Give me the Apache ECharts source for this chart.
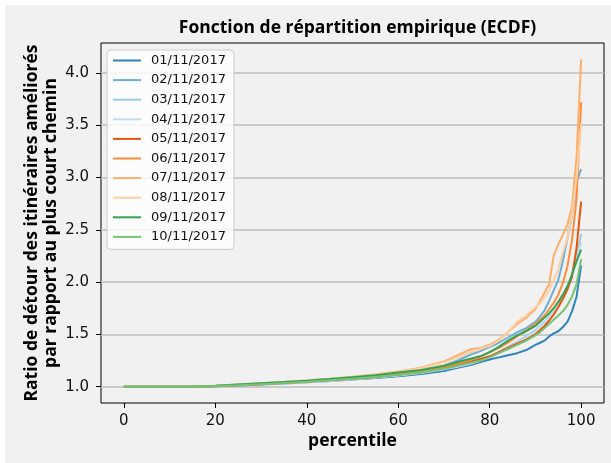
<!DOCTYPE html>
<html>
<head>
<meta charset="utf-8">
<script src="https://cdn.jsdelivr.net/npm/echarts@6/dist/echarts.min.js"></script>
<style>
  html, body { margin: 0; padding: 0; background: #fff; }
  #chart {
    width: 611px; height: 463px;
    background: linear-gradient(#f1f1f1, #f1f1f1) 5px 5px / 606px 458px no-repeat, #fff;
  }
</style>
</head>
<body>
<div id="chart"></div>
<script>
// Percentile grid shared by every day's ECDF curve
const percentiles = [0, 5, 10, 15, 20, 25, 30, 35, 40, 45, 50, 55, 60, 65, 70, 73, 76, 78, 80, 82, 84, 86, 88, 90, 91, 92, 93, 94, 95, 96, 97, 98, 99, 100];

const days = ['01/11/2017', '02/11/2017', '03/11/2017', '04/11/2017', '05/11/2017',
              '06/11/2017', '07/11/2017', '08/11/2017', '09/11/2017', '10/11/2017'];

// Detour ratio at each percentile, one array per day
const ratio0111 = [1.0, 1.0, 1.0, 1.0, 1.004, 1.012, 1.021, 1.031, 1.042, 1.054, 1.068, 1.083, 1.100, 1.120, 1.150, 1.180, 1.210, 1.235, 1.260, 1.280, 1.300, 1.320, 1.350, 1.400, 1.420, 1.440, 1.480, 1.510, 1.530, 1.570, 1.620, 1.720, 1.860, 2.160];
const ratio0211 = [1.0, 1.0, 1.0, 1.0, 1.006, 1.016, 1.027, 1.038, 1.050, 1.064, 1.080, 1.098, 1.120, 1.150, 1.200, 1.250, 1.310, 1.340, 1.380, 1.420, 1.470, 1.520, 1.560, 1.620, 1.670, 1.730, 1.820, 1.920, 2.020, 2.200, 2.420, 2.640, 2.960, 3.080];
const ratio0311 = [1.0, 1.0, 1.0, 1.0, 1.004, 1.013, 1.022, 1.032, 1.044, 1.057, 1.072, 1.090, 1.110, 1.135, 1.170, 1.200, 1.235, 1.260, 1.290, 1.330, 1.380, 1.430, 1.480, 1.540, 1.580, 1.620, 1.670, 1.720, 1.780, 1.860, 1.950, 2.080, 2.250, 2.460];
const ratio0411 = [1.0, 1.0, 1.0, 1.0, 1.004, 1.012, 1.021, 1.031, 1.042, 1.055, 1.070, 1.087, 1.107, 1.130, 1.165, 1.190, 1.220, 1.250, 1.280, 1.320, 1.370, 1.420, 1.470, 1.530, 1.570, 1.610, 1.660, 1.720, 1.790, 1.870, 1.960, 2.070, 2.200, 2.380];
const ratio0511 = [1.0, 1.0, 1.0, 1.0, 1.004, 1.013, 1.023, 1.034, 1.046, 1.060, 1.076, 1.093, 1.115, 1.140, 1.180, 1.210, 1.240, 1.265, 1.290, 1.330, 1.370, 1.410, 1.450, 1.500, 1.540, 1.580, 1.630, 1.690, 1.760, 1.840, 1.930, 2.050, 2.330, 2.770];
const ratio0611 = [1.0, 1.0, 1.0, 1.0, 1.005, 1.015, 1.025, 1.037, 1.050, 1.065, 1.082, 1.100, 1.125, 1.150, 1.190, 1.220, 1.260, 1.290, 1.330, 1.370, 1.420, 1.480, 1.540, 1.600, 1.640, 1.680, 1.740, 1.800, 1.880, 1.990, 2.150, 2.400, 2.800, 3.720];
const ratio0711 = [1.0, 1.0, 1.0, 1.0, 1.008, 1.020, 1.032, 1.045, 1.060, 1.076, 1.095, 1.118, 1.145, 1.180, 1.240, 1.300, 1.360, 1.370, 1.400, 1.450, 1.520, 1.600, 1.660, 1.740, 1.820, 1.900, 1.980, 2.250, 2.360, 2.450, 2.550, 2.720, 3.200, 4.130];
const ratio0811 = [1.0, 1.0, 1.0, 1.0, 1.008, 1.020, 1.030, 1.043, 1.058, 1.074, 1.092, 1.115, 1.140, 1.175, 1.230, 1.280, 1.330, 1.360, 1.390, 1.440, 1.520, 1.620, 1.680, 1.760, 1.800, 1.850, 1.920, 2.020, 2.120, 2.280, 2.420, 2.650, 3.000, 3.520];
const ratio0911 = [1.0, 1.0, 1.0, 1.0, 1.008, 1.020, 1.032, 1.044, 1.057, 1.072, 1.090, 1.110, 1.135, 1.160, 1.200, 1.235, 1.270, 1.290, 1.330, 1.380, 1.440, 1.490, 1.530, 1.580, 1.620, 1.660, 1.700, 1.750, 1.810, 1.880, 1.960, 2.070, 2.200, 2.310];
const ratio1011 = [1.0, 1.0, 1.0, 1.0, 1.005, 1.014, 1.024, 1.035, 1.047, 1.060, 1.075, 1.092, 1.112, 1.135, 1.170, 1.200, 1.230, 1.250, 1.280, 1.320, 1.360, 1.400, 1.440, 1.490, 1.520, 1.560, 1.600, 1.640, 1.680, 1.720, 1.780, 1.860, 1.980, 2.220];

const ratios = [ratio0111, ratio0211, ratio0311, ratio0411, ratio0511,
                ratio0611, ratio0711, ratio0811, ratio0911, ratio1011];

const xTicks = [0, 20, 40, 60, 80, 100];
const yTicks = [1.0, 1.5, 2.0, 2.5, 3.0, 3.5, 4.0];

// tab20c: blues, oranges, greens
const palette = ['#3182bd', '#6baed6', '#9ecae1', '#c6dbef', '#e6550d',
                 '#fd8d3c', '#fdae6b', '#fdd0a2', '#31a354', '#74c476'];

// 5% padding around the data range on both axes
const xMin = -5, xMax = 105;
const yDataMin = 1.0, yDataMax = 4.13;
const yPad = (yDataMax - yDataMin) * 0.05;

const chart = echarts.init(document.getElementById('chart'), null, { renderer: 'canvas' });

const series = days.map((day, i) => ({
  name: day,
  type: 'line',
  symbol: 'none',
  data: percentiles.map((p, k) => [p, ratios[i][k]]),
  lineStyle: { width: 2, color: palette[i] },
  itemStyle: { color: palette[i] },
  z: 2 + i,
  animation: false
}));

const boldFont = '"Open Sans", "DejaVu Sans", sans-serif';
const tickFont = '"DejaVu Sans", sans-serif';

chart.setOption({
  backgroundColor: 'transparent',
  animation: false,
  title: {
    text: 'Fonction de répartition empirique (ECDF)',
    left: 352.5,
    top: 14,
    textAlign: 'center',
    textStyle: { fontFamily: boldFont, fontWeight: 'bold', fontSize: 17.5, color: '#000' }
  },
  legend: {
    orient: 'vertical',
    left: 107,
    top: 50,
    itemWidth: 28,
    itemHeight: 14,
    itemGap: 6.6,
    padding: [4, 8, 6, 6],
    icon: 'path://M0,0H28V2H0Z',
    backgroundColor: 'rgba(255,255,255,0.8)',
    borderColor: '#cccccc',
    borderWidth: 1,
    borderRadius: 4,
    textStyle: { fontFamily: tickFont, fontSize: 13, color: '#111', padding: [0, 0, 0, 5] },
    data: days
  },
  grid: {
    left: 101, top: 43, right: 7, bottom: 60,
    show: true,
    backgroundColor: '#f1f1f1',
    borderColor: '#000',
    borderWidth: 1
  },
  xAxis: {
    type: 'value',
    min: xMin, max: xMax,
    name: 'percentile',
    nameLocation: 'middle',
    nameGap: 29,
    nameMoveOverlap: false,
    nameTextStyle: { fontFamily: boldFont, fontWeight: 'bold', fontSize: 17.5, color: '#000' },
    axisLine: { show: false },
    axisTick: { show: true, length: 5, lineStyle: { color: '#000' }, customValues: xTicks },
    axisLabel: { customValues: xTicks, margin: 11, fontFamily: tickFont, fontSize: 15, color: '#111' },
    splitLine: { show: false }
  },
  yAxis: {
    type: 'value',
    min: yDataMin - yPad, max: yDataMax + yPad,
    name: 'Ratio de détour des itinéraires améliorés\npar rapport au plus court chemin',
    nameLocation: 'middle',
    nameRotate: 90,
    nameGap: 40,
    nameMoveOverlap: false,
    nameTextStyle: { fontFamily: boldFont, fontWeight: 'bold', fontSize: 17.5, color: '#000', lineHeight: 19 },
    axisLine: { show: false, onZero: false },
    axisTick: { show: true, length: 5, lineStyle: { color: '#000' }, customValues: yTicks },
    axisLabel: { customValues: yTicks, margin: 12, fontFamily: tickFont, fontSize: 15, color: '#111',
                 formatter: v => v.toFixed(1) },
    splitLine: { show: true, lineStyle: { color: '#bdbdbd', width: 1.5 } }
  },
  series: series
});
</script>
</body>
</html>
